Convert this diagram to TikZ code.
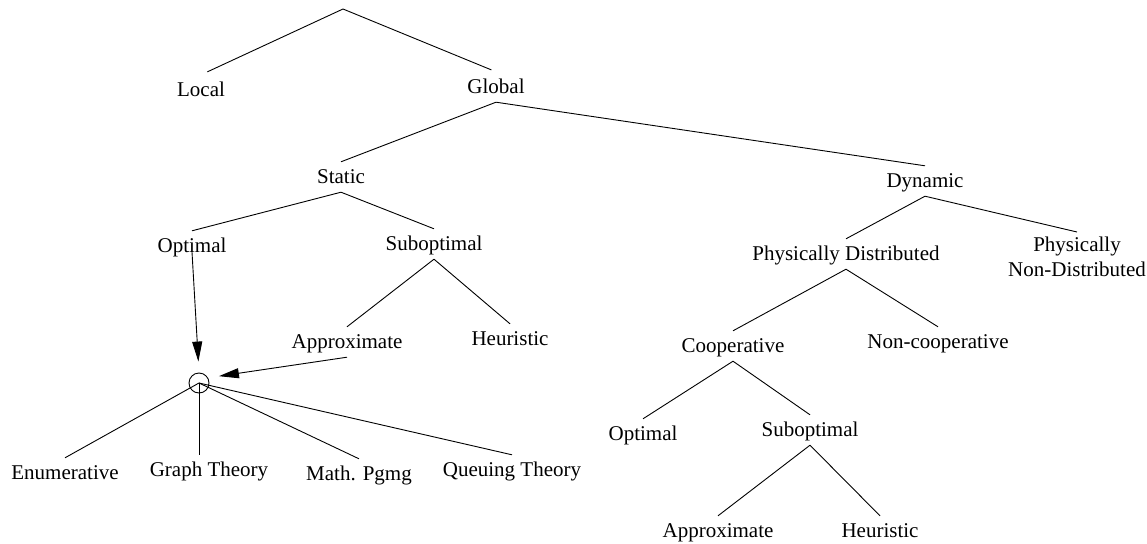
\documentclass[tikz,border=0pt]{standalone}
\usepackage{fontspec}
\setmainfont{Liberation Serif}
\usetikzlibrary{arrows.meta}

\begin{document}
\begin{tikzpicture}[x=1pt,y=-1pt,
    term/.style={inner xsep=2pt,inner ysep=5pt,text height=16pt,text depth=4pt,anchor=base,font=\fontsize{21}{25}\selectfont},
    branch/.style={line width=0.9pt},
    feed/.style={line width=0.9pt,-{Triangle[length=20pt,width=10pt]},shorten >=11pt}]
        \useasboundingbox (0,0) rectangle (1147,543);

        % top of the tree
        \coordinate (root) at (343,9);
        \node[term] (local) at (201,96) {Local};
        \node[term] (global) at (496,93) {Global};

        % static side
        \node[term] (static) at (341,183) {Static};
        \node[term] (optimal) at (192,252) {Optimal};
        \node[term] (subopt) at (434,250) {Suboptimal};
        \node[term] (approx) at (347,348) {Approximate};
        \node[term] (heur) at (510,345) {Heuristic};

        % joining circle and its methods
        \node[draw,circle,minimum size=20pt,inner sep=0pt,line width=0.9pt] (hub) at (199,383) {};
        \node[term] (enum) at (65,479) {Enumerative};
        \node[term] (graph) at (209,476) {Graph Theory};
        \node[term] (math) at (359,480) {Math. Pgmg};
        \node[term] (queue) at (512,476) {Queuing Theory};

        % dynamic side
        \node[term] (dynamic) at (925,187) {Dynamic};
        \node[term] (physd) at (846,260) {Physically Distributed};
        \node[inner xsep=2pt,inner ysep=5pt,anchor=north,align=center,font=\fontsize{21}{25}\selectfont] (physnd) at (1077,232) {Physically\\Non-Distributed};
        \node[term] (coop) at (733,352) {Cooperative};
        \node[term] (noncoop) at (938,348) {Non-cooperative};
        \node[term] (optimaltwo) at (643,440) {Optimal};
        \node[term] (suboptwo) at (810,436) {Suboptimal};
        \node[term] (approxtwo) at (718,537) {Approximate};
        \node[term] (heurtwo) at (880,537) {Heuristic};

        % branches of the static side
        \draw[branch,shorten >=7pt] (root) -- (local.north);
        \draw[branch,shorten >=5pt] (root) -- (global.north);
        \draw[branch] (global.south) -- (static.north);
        \draw[branch] (static.south) -- (optimal.north);
        \draw[branch] (static.south) -- (subopt.north);
        \draw[branch] (subopt.south) -- (approx.north);
        \draw[branch] (subopt.south) -- (heur.north);

        % arrows into the circle
        \draw[feed] (optimal.base) -- (hub.north);
        \draw[feed] (approx.south) -- (hub.30);

        % methods
        \draw[branch] (hub.center) -- (enum.north);
        \draw[branch] (hub.center) -- (hub.center |- graph.north);
        \draw[branch] (hub.center) -- (math.north);
        \draw[branch] (hub.center) -- (queue.north);

        % branches of the dynamic side
        \draw[branch] (global.south) -- (dynamic.north);
        \draw[branch] (dynamic.south) -- (physd.north);
        \draw[branch] (dynamic.south) -- (physnd.north);
        \draw[branch] (physd.south) -- (coop.north);
        \draw[branch] (physd.south) -- (noncoop.north);
        \draw[branch] (coop.south) -- (optimaltwo.north);
        \draw[branch] (coop.south) -- (suboptwo.north);
        \draw[branch] (suboptwo.south) -- (approxtwo.north);
        \draw[branch] (suboptwo.south) -- (heurtwo.north);

\end{tikzpicture}
\end{document}
